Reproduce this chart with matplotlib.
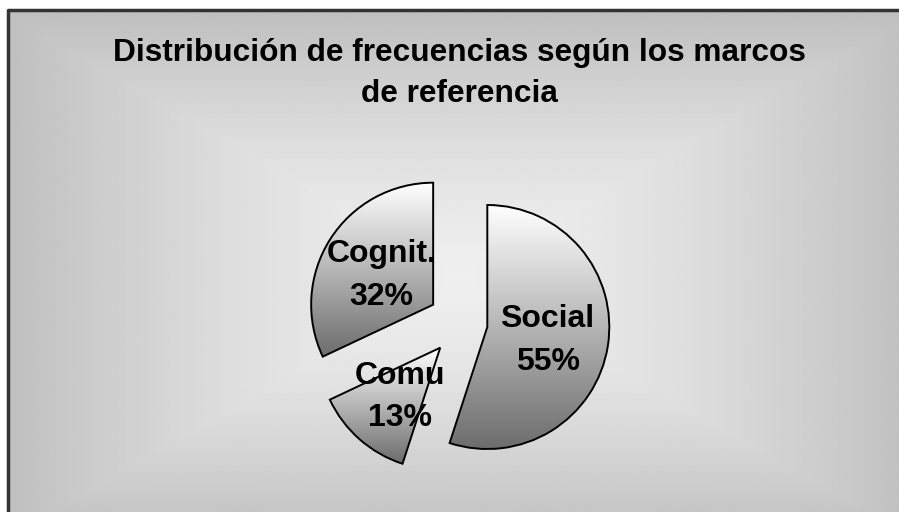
import numpy as np
import matplotlib.pyplot as plt
from matplotlib.colors import LinearSegmentedColormap

# datos
nombres = ['Social', 'Comu', 'Cognit.']
porcentajes = [55, 13, 32]
separacion = [0.21, 0.27, 0.28]
titulo = ['Distribución de frecuencias según los marcos', 'de referencia']

plt.rcParams['font.family'] = ['Liberation Sans', 'DejaVu Sans']

W, H = 899, 512
fig = plt.figure(figsize=(W / 100, H / 100), dpi=100)
fig.patch.set_facecolor('white')

# fondo con degradado rectangular desde el centro
bg = fig.add_axes([0, 0, 1, 1])
bg.set_xlim(0, W)
bg.set_ylim(H, 0)
bg.axis('off')
yy, xx = np.mgrid[0:H, 0:W]
cx, cy = 455, 270
t = np.maximum(np.abs(xx - cx) / 470.0, np.abs(yy - cy) / 275.0)
t = np.clip(t, 0, 1) ** 1.5
claro, oscuro = 0.935, 0.74
grad = claro + (oscuro - claro) * t
bg.imshow(grad, cmap='gray', vmin=0, vmax=1, extent=(8, W + 2, H + 2, 10),
          interpolation='bilinear', aspect='auto')
bg.set_xlim(0, W)
bg.set_ylim(H, 0)
bg.plot([8, 8, W + 5], [H + 5, 10, 10], color='#333333', lw=2.5, solid_capstyle='butt')

# titulo (dos lineas)
for linea, yb in zip(titulo, [61, 102]):
    fig.text(0.5115, 1 - yb / H, linea, ha='center', va='baseline',
             fontsize=22.8, fontweight='bold')

# pastel
r = 122
pcx, pcy = 462, 323
size = 3.0 * r
ax = fig.add_axes([(pcx - size / 2) / W, (H - pcy - size / 2) / H, size / W, size / H])
ax.set_xlim(-1.5, 1.5)
ax.set_ylim(-1.5, 1.5)
ax.axis('off')

etiquetas = [f'{n}\n{p}%' for n, p in zip(nombres, porcentajes)]
wedges, textos = ax.pie(porcentajes, labels=etiquetas, explode=separacion,
                        startangle=90, counterclock=False, labeldistance=0.5,
                        wedgeprops=dict(edgecolor='black', linewidth=1.4))

cmap = LinearSegmentedColormap.from_list('gris', ['#ffffff', '#6c6c6c'])
for w in wedges:
    verts = w.get_patch_transform().transform(w.get_path().vertices)
    x0, x1 = verts[:, 0].min(), verts[:, 0].max()
    y0, y1 = verts[:, 1].min(), verts[:, 1].max()
    w.set_facecolor('none')
    w.set_zorder(3)
    g = np.linspace(0, 1, 256).reshape(-1, 1)
    im = ax.imshow(g, cmap=cmap, extent=(x0, x1, y0, y1), origin='upper',
                   aspect='auto', zorder=2)
    im.set_clip_path(w)

ax.set_xlim(-1.5, 1.5)
ax.set_ylim(-1.5, 1.5)

for tx in textos:
    tx.set_ha('center')
    tx.set_va('center')
    tx.set_multialignment('center')
    tx.set_fontsize(23)
    tx.set_fontweight('bold')
    tx.set_linespacing(1.55)
    tx.set_zorder(4)
    x, y = tx.get_position()
    tx.set_position((x, y - 0.03))

fig.savefig('out.png', dpi=100)
